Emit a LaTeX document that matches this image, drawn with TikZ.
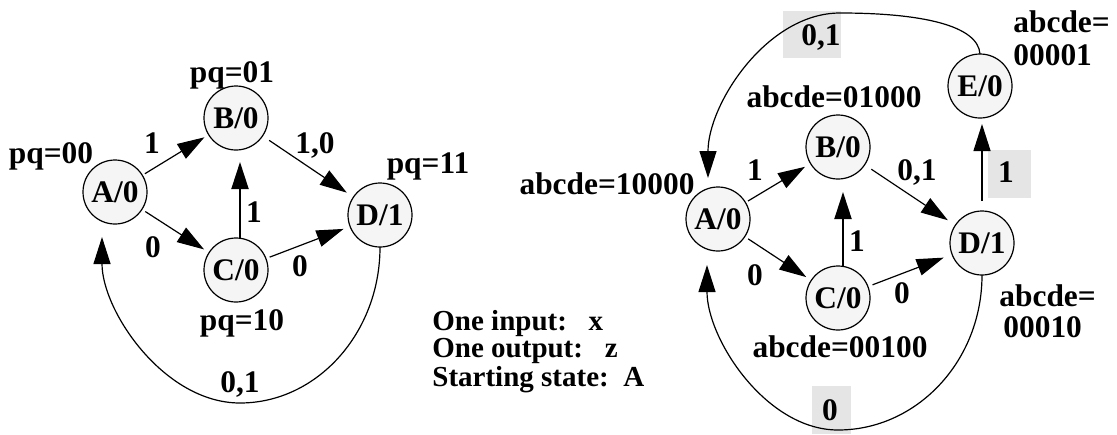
\documentclass[tikz,border=0pt]{standalone}
\usepackage{fontspec}
\setmainfont{Liberation Serif}
\usetikzlibrary{arrows.meta,calc}
\definecolor{nodefill}{HTML}{F5F5F5}
\definecolor{boxgray}{HTML}{E5E5E5}
\begin{document}
\begin{tikzpicture}[x=0.5pt,y=-0.5pt,
  font=\fontsize{15.7}{18}\selectfont\bfseries,
  state/.style={circle,draw,line width=0.6pt,fill=nodefill,minimum size=32pt,inner sep=0pt,outer sep=0pt},
  arr/.style={-{Triangle[length=13.5pt,width=8.5pt]},line width=0.6pt},
  lbl/.style={anchor=base,inner sep=0pt},
  lblw/.style={anchor=base west,inner sep=0pt}]
\useasboundingbox (0,0) rectangle (1117,434);

% gray label boxes (right diagram)
\fill[boxgray] (783,11) rectangle (841,58);
\fill[boxgray] (988,150) rectangle (1031,198);
\fill[boxgray] (812,386) rectangle (851,434);

% ---------------- left diagram ----------------
\node[state] (lA) at (115,192) {A/0};
\node[state] (lB) at (236,118) {B/0};
\node[state] (lC) at (236,270) {C/0};
\node[state] (lD) at (380,215) {D/1};

\node[lbl] (pq01) at (232,82) {pq=01};
\node[lbl] (pq00) at (51,163) {pq=00};
\node[lbl] (pq11) at (428,173) {pq=11};
\node[lbl] (pq10) at (242,330) {pq=10};

\draw[arr,shorten <=1.5pt,shorten >=2.5pt] (lA) -- (lB);
\draw[arr,shorten <=4pt,shorten >=4pt] (lB) -- (lD);
\draw[arr,shorten <=2pt,shorten >=3pt] (lA) -- (lC);
\draw[arr,shorten <=2pt,shorten >=3.5pt] (lC) -- (lD);
\draw[arr,line width=1pt] ($(lC.north)+(4,0)$) -- ($(lB.south)+(4,12)$);
\draw[arr] (lD.south) .. controls (380,333) and (317,403) .. (240,403)
  .. controls (164,403) and (102,311) .. ($(lA.south)+(-13,13)$);

\node[lbl] (lab1) at (152,153) {1};
\node[lbl] (lbd) at (315,153) {1,0};
\node[lbl] (lcb) at (254,222) {1};
\node[lbl] (lac) at (153,257) {0};
\node[lbl] (lcd) at (300,276) {0};
\node[lbl] (lda) at (240,392) {0,1};

% ---------------- legend ----------------
\node[anchor=north west,inner sep=0pt,align=left,
      font=\fontsize{14.5}{11.75}\selectfont\bfseries] (legend) at (432,310)
  {One input:\ \ \ x\\One output:\ \ \ z\\Starting state:\ \ A};

% ---------------- right diagram ----------------
\node[state] (rA) at (718,219) {A/0};
\node[state] (rB) at (838,147) {B/0};
\node[state] (rC) at (838,298) {C/0};
\node[state] (rD) at (982,243) {D/1};
\node[state] (rE) at (980,86) {E/0};

\node[lbl] (ca) at (607,194) {abcde=10000};
\node[lbl] (cb) at (834,107) {abcde=01000};
\node[lbl] (cc) at (840,357) {abcde=00100};
\node[lblw] (ce1) at (1013,32) {abcde=};
\node[lblw] (ce2) at (1013,65) {00001};
\node[lblw] (cd1) at (999,306) {abcde=};
\node[lblw] (cd2) at (1003,337) {00010};

\draw[arr,shorten <=1.5pt,shorten >=3.25pt] (rA) -- (rB);
\draw[arr,shorten <=4pt,shorten >=4.5pt] (rB) -- (rD);
\draw[arr,shorten <=2pt,shorten >=3pt] (rA) -- (rC);
\draw[arr,shorten <=2.5pt,shorten >=4.5pt] (rC) -- (rD);
\draw[arr,line width=1pt] ($(rC.north)+(5,0)$) -- ($(rB.south)+(5,13)$);
\draw[arr,shorten <=5pt,shorten >=3pt] (rD.north) -- (rD.north |- rE.south);
\draw[arr] (rE.north) .. controls (978,25) and (920,13) .. (840,13)
  .. controls (767,13) and (708,104) .. ($(rA.north)+(-10,-9)$);
\draw[arr] (rD.south) .. controls (982,361) and (917,430) .. (838,430)
  .. controls (766,430) and (707,339) .. ($(rA.south)+(-11,14)$);

\node[lbl] (rtop) at (821,45) {0,1};
\node[lbl] (rab) at (755,180) {1};
\node[lbl] (rbd) at (917,180) {0,1};
\node[lbl] (rcb) at (857,251) {1};
\node[lbl] (rac) at (755,285) {0};
\node[lbl] (rcd) at (902,303) {0};
\node[lbl] (rde) at (1006,182) {1};
\node[lbl] (rda) at (830,420) {0};
\end{tikzpicture}
\end{document}
